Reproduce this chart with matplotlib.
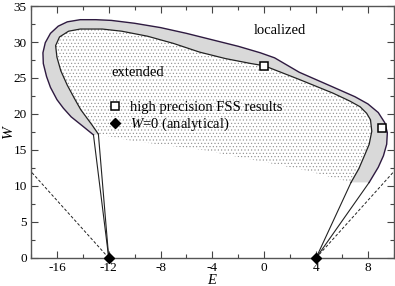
import numpy as np
import matplotlib
matplotlib.use("Agg")
import matplotlib.pyplot as plt
from matplotlib.ticker import MultipleLocator

plt.rcParams['font.family'] = ['Liberation Serif', 'DejaVu Serif']
plt.rcParams['mathtext.fontset'] = 'custom'
plt.rcParams['mathtext.rm'] = 'Liberation Serif'
plt.rcParams['mathtext.it'] = 'Liberation Serif:italic'
plt.rcParams['axes.unicode_minus'] = False
plt.rcParams['hatch.color'] = '#8a8a8a'
plt.rcParams['hatch.linewidth'] = 0.4

# outer mobility-edge curve (E, W), from lower-left end round to lower-right end
E_out = [-13.18, -14.0, -14.9, -15.5, -16.0, -16.5, -16.8, -17.05, -17.08, -16.9,
         -16.5, -15.9, -15.2, -14.2, -13.0, -11.8, -10.0, -8.0, -6.0, -4.0,
         -2.0, -0.3, 0.8, 2.7, 5.3, 7.0, 8.0, 8.8, 9.3, 9.5,
         9.45, 9.2, 8.8, 8.1]
W_out = [17.1, 18.3, 19.6, 20.8, 22.0, 23.7, 25.2, 27.0, 28.5, 29.9,
         31.2, 32.2, 32.8, 33.1, 33.1, 33.0, 32.6, 32.0, 31.2, 30.3,
         29.4, 28.5, 27.8, 25.8, 23.75, 22.4, 21.4, 20.2, 18.8, 17.4,
         15.8, 14.2, 12.6, 10.5]

# inner curve
E_in = [-12.8, -13.3, -14.16, -14.6, -15.2, -15.7, -16.0, -16.1, -15.8, -15.1,
        -14.2, -12.5, -11.0, -9.0, -7.0, -5.0, -3.0, -1.0, 0.0, 2.7,
        5.3, 6.6, 7.4, 7.9, 8.2, 8.3, 8.1, 7.8, 7.3, 6.7]
W_in = [17.2, 18.5, 20.6, 22.0, 24.0, 26.0, 27.9, 29.5, 30.7, 31.5,
        31.8, 31.8, 31.5, 30.8, 29.8, 28.6, 27.7, 27.0, 26.7, 24.8,
        22.9, 21.8, 21.0, 20.1, 19.2, 17.6, 15.8, 14.5, 12.4, 10.5]

# lower edge of the dotted (extended) area, right to left
E_dot_low = [6.7, 3.1, -0.8, -4.75, -10.2, -12.8]
W_dot_low = [10.5, 12.2, 13.6, 15.0, 16.25, 17.2]

# band edges at W=0
E_c = [-12.0, 4.0]
W_c = [0.0, 0.0]

# FSS points
E_fss = [0.0, 9.1]
W_fss = [26.7, 18.0]

# dashed asymptotes
E_dash_l = [-12.0, -18.0]
W_dash_l = [0.0, 12.0]
E_dash_r = [4.0, 10.0]
W_dash_r = [0.0, 12.0]

fig = plt.figure(figsize=(3.95, 2.86), dpi=100)
ax = fig.add_axes([0.0785, 0.098, 0.9185, 0.881])

# dotted region inside inner curve
ax.fill(E_in + E_dot_low, W_in + W_dot_low, facecolor='none', edgecolor='#8a8a8a',
        linewidth=0, hatch='.....', zorder=1)

# gray band between curves
ax.fill(E_out + E_in[::-1], W_out + W_in[::-1], facecolor='#d9d9d9',
        edgecolor='none', zorder=2)

ax.plot(E_out, W_out, color='#2e1a40', lw=1.0, zorder=3)
ax.plot(E_in, W_in, color='#222222', lw=0.9, zorder=3)

# lines down to the band edges
ax.plot([E_out[0], E_c[0]], [W_out[0], W_c[0]], color='#222222', lw=0.8, zorder=3)
ax.plot([E_in[0], E_c[0]], [W_in[0], W_c[0]], color='#222222', lw=0.8, zorder=3)
ax.plot([E_out[-1], E_c[1]], [W_out[-1], W_c[1]], color='#222222', lw=0.8, zorder=3)
ax.plot([E_in[-1], E_c[1]], [W_in[-1], W_c[1]], color='#222222', lw=0.8, zorder=3)

ax.plot(E_dash_l, W_dash_l, color='#222222', lw=0.7, ls=(0, (3, 2)), zorder=3)
ax.plot(E_dash_r, W_dash_r, color='#222222', lw=0.7, ls=(0, (3, 2)), zorder=3)

ax.plot(E_fss, W_fss, ls='none', marker='s', ms=6, mfc='white', mec='black',
        mew=1.1, zorder=5, label='high precision FSS results')
ax.plot(E_c, W_c, ls='none', marker='D', ms=5, color='black', zorder=6,
        clip_on=False, label='$W$=0 (analytical)')

leg = ax.legend(loc='upper left', bbox_to_anchor=(0.2, 0.645), frameon=False,
                fontsize=10.5, handlelength=0.8, handletextpad=0.6,
                borderaxespad=0, labelspacing=0.1, numpoints=1)

ax.text(-11.8, 25.7, 'extended', fontsize=10.5, va='center', ha='left')
ax.text(1.2, 31.6, 'localized', fontsize=10.5, va='center', ha='center')

ax.set_xlim(-18, 10)
ax.set_ylim(0, 35)
ax.xaxis.set_major_locator(MultipleLocator(4))
ax.xaxis.set_minor_locator(MultipleLocator(2))
ax.yaxis.set_major_locator(MultipleLocator(5))
ax.yaxis.set_minor_locator(MultipleLocator(2.5))
ax.tick_params(which='both', direction='in', top=True, right=True,
               labelsize=9.5, color='#444444', pad=3)
ax.tick_params(which='major', length=5, width=0.8)
ax.tick_params(which='minor', length=3, width=0.8)
for s in ax.spines.values():
    s.set_color('#555555')
    s.set_linewidth(1.0)

ax.set_xlabel('$E$', fontsize=10.5, labelpad=-0.5)
ax.set_ylabel('$W$', fontsize=11, labelpad=-2)

fig.savefig('out.png', dpi=100)
